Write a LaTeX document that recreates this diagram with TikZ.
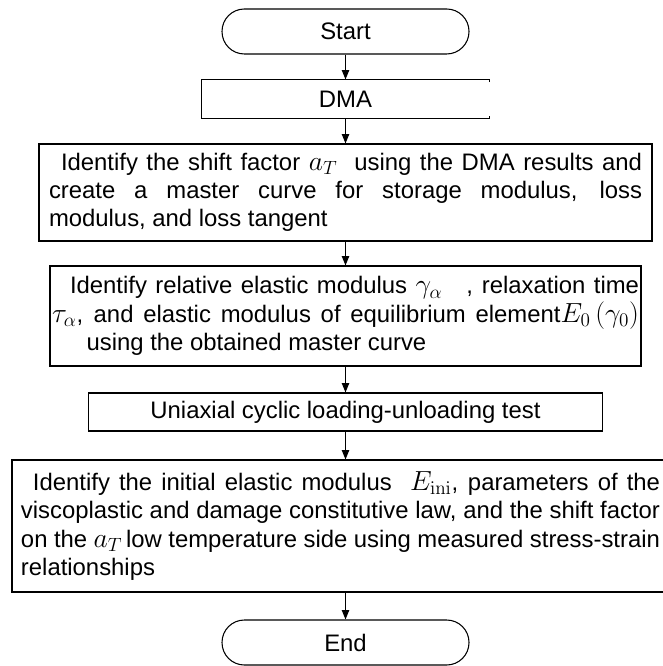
\documentclass[tikz,border=0pt]{standalone}
\usepackage[no-math]{fontspec}
\setmainfont{Liberation Sans}
\usepackage{amsmath}
\usetikzlibrary{arrows.meta, positioning}
\DeclareMathSizes{17.9}{20}{14}{10}
\newcommand{\flowfont}{\fontsize{17.9}{21.2}\selectfont}
\newcommand{\jline}[2]{\makebox[#1][s]{\spaceskip=0pt\xspaceskip=0pt #2}}
\tikzstyle{startstop} = [rectangle, rounded corners=16.8pt, minimum width=185.25pt, minimum height=33.75pt, draw=black, line width=0.8pt, font=\flowfont]
\tikzstyle{process} = [rectangle, draw=black, line width=0.8pt, inner sep=0pt, font=\flowfont]
\tikzstyle{arrow} = [line width=0.8pt, -{Triangle[length=7pt,width=5.5pt]}]

\begin{document}
\begin{tikzpicture}[x=0.75pt, y=-0.75pt]
\useasboundingbox (0,0) rectangle (662,666);

\node[startstop] (start) at (345.5,31.5) {Start};

% DMA box, right side left open
\node[process, draw=none, minimum width=215.25pt, minimum height=28.5pt] (dma) at (345.5,99) {DMA};
\draw[line width=0.8pt] ([yshift=-2pt]dma.north east) -- (dma.north east) -- (dma.north west)
  -- (dma.south west) -- (dma.south east) -- ([yshift=2pt]dma.south east);

\node[process,
minimum width=459.75pt,
minimum height=72.75pt,
text width=444.75pt,
align=left
] (mastercurve) at (345.5,192.5) {
\jline{444.75pt}{\hspace*{9pt}Identify the shift factor $a_T$\ \ using the DMA results and}\\
\jline{444.75pt}{create a master curve for storage modulus, loss}\\
\spaceskip=0pt modulus, and loss tangent
};

\node[process,
minimum width=443.25pt,
minimum height=75pt,
text width=440.25pt,
align=left
] (relaxation) at (345.5,316) {
\jline{440.25pt}{\hspace*{13.5pt}Identify relative elastic modulus $\gamma_\alpha$\quad, relaxation time}\\
\jline{440.25pt}{$\tau_\alpha$, and elastic modulus of equilibrium element$E_0\,(\gamma_0)$}\\
\spaceskip=0pt \hspace*{26pt}using the obtained master curve
};

\node[process, minimum width=385.5pt, minimum height=28.5pt] (cyclic) at (345.5,412)
{Uniaxial cyclic loading-unloading test};

\node[process,
minimum width=492.75pt,
minimum height=99pt,
text width=479.25pt,
align=left
] (parameters) at (340.5,526) {
\jline{479.25pt}{\hspace*{9pt}Identify the initial elastic modulus\ \ $E_{\mathrm{ini}}$, parameters of the}\\
\jline{479.25pt}{viscoplastic and damage constitutive law, and the shift factor}\\
\jline{479.25pt}{on the $a_T$\,low temperature side using measured stress-strain}\\
relationships
};

\node[startstop] (end) at (345.5,642.5) {End};

\draw[arrow] (start) -- (dma);
\draw[arrow] (dma) -- (mastercurve);
\draw[arrow] (mastercurve) -- (relaxation);
\draw[arrow] (relaxation) -- (cyclic);
\draw[arrow] (cyclic.south) -- (cyclic.south |- parameters.north);
\draw[arrow] (parameters.south -| end.north) -- (end.north);
\end{tikzpicture}
\end{document}
